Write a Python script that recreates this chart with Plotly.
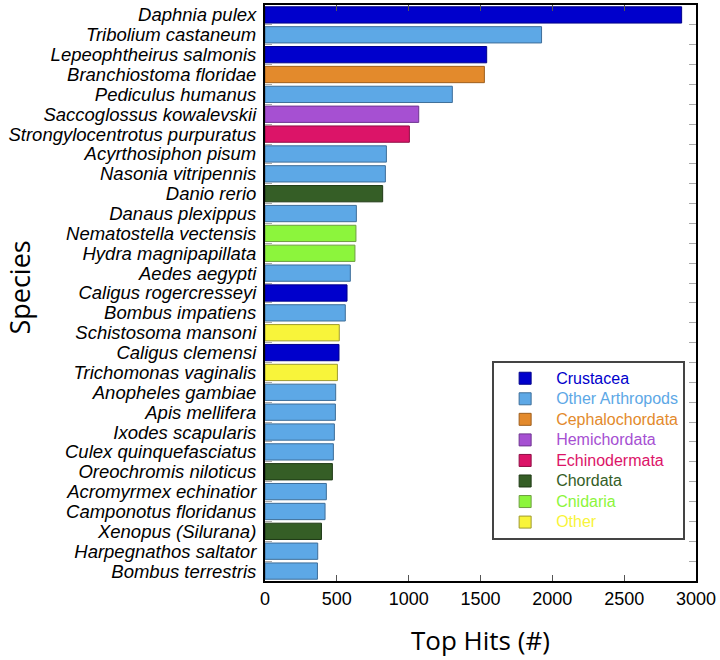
import plotly.graph_objects as go

species = ["Daphnia pulex", "Tribolium castaneum", "Lepeophtheirus salmonis", "Branchiostoma floridae",
           "Pediculus humanus", "Saccoglossus kowalevskii", "Strongylocentrotus purpuratus",
           "Acyrthosiphon pisum", "Nasonia vitripennis", "Danio rerio", "Danaus plexippus",
           "Nematostella vectensis", "Hydra magnipapillata", "Aedes aegypti", "Caligus rogercresseyi",
           "Bombus impatiens", "Schistosoma mansoni", "Caligus clemensi", "Trichomonas vaginalis",
           "Anopheles gambiae", "Apis mellifera", "Ixodes scapularis", "Culex quinquefasciatus",
           "Oreochromis niloticus", "Acromyrmex echinatior", "Camponotus floridanus",
           "Xenopus (Silurana)", "Harpegnathos saltator", "Bombus terrestris"]
top_hits = [2900, 1925, 1543, 1527, 1304, 1070, 1005, 845, 838, 819, 636, 633, 626, 594, 571,
            559, 517, 515, 504, 492, 490, 483, 476, 469, 427, 418, 393, 367, 365]
groups = ["Crustacea", "Other Arthropods", "Crustacea", "Cephalochordata", "Other Arthropods",
          "Hemichordata", "Echinodermata", "Other Arthropods", "Other Arthropods", "Chordata",
          "Other Arthropods", "Cnidaria", "Cnidaria", "Other Arthropods", "Crustacea",
          "Other Arthropods", "Other", "Crustacea", "Other", "Other Arthropods", "Other Arthropods",
          "Other Arthropods", "Other Arthropods", "Chordata", "Other Arthropods", "Other Arthropods",
          "Chordata", "Other Arthropods", "Other Arthropods"]
group_names = ["Crustacea", "Other Arthropods", "Cephalochordata", "Hemichordata",
               "Echinodermata", "Chordata", "Cnidaria", "Other"]
group_colors = ["#0000CC", "#5DA8E6", "#E38A2C", "#A650D2", "#DC1468", "#355E26", "#8CF53C", "#F8F43A"]
group_lines = ["#00008A", "#3E6E99", "#9E5F1E", "#6E3590", "#8E0D44", "#1F3A16", "#6E9E40", "#9E9A30"]
x_title = "Top Hits (#)"
y_title = "Species"

fig = go.Figure()
for g, c, lc in zip(group_names, group_colors, group_lines):
    ys = [s for s, gg in zip(species, groups) if gg == g]
    xs = [v for v, gg in zip(top_hits, groups) if gg == g]
    fig.add_trace(go.Bar(
        x=xs, y=ys, orientation="h",
        name=f"<span style='color:{c};font-size:16px'>{g}</span>",
        marker=dict(color=c, line=dict(color=lc, width=1)),
    ))

fig.update_layout(
    width=720, height=660,
    plot_bgcolor="white", paper_bgcolor="white",
    margin=dict(l=265, r=24, t=5, b=79),
    barmode="relative", bargap=0.18,
    showlegend=True,
    legend=dict(
        x=0.527, y=0.382, xanchor="left", yanchor="top",
        bordercolor="#444444", borderwidth=2, bgcolor="white",
        font=dict(family="Liberation Sans, Arial, sans-serif", size=13.5),
        itemwidth=52,
    ),
    annotations=[
        dict(text=y_title, xref="paper", yref="paper", x=-0.569, y=0.509, textangle=-90,
             showarrow=False, xanchor="center", yanchor="middle",
             font=dict(family="Open Sans, sans-serif", size=27, color="black")),
        dict(text=x_title, xref="paper", yref="paper", x=0.50, y=-0.102,
             showarrow=False, xanchor="center", yanchor="middle",
             font=dict(family="Open Sans, sans-serif", size=26, color="black")),
    ],
)
fig.update_xaxes(
    range=[0, 3000], dtick=500, tick0=0, automargin=False,
    showline=True, linecolor="black", linewidth=2, mirror="allticks",
    ticks="inside", ticklen=6, tickcolor="#555555",
    showgrid=False, zeroline=False,
    tickfont=dict(family="Liberation Sans, Arial, sans-serif", size=18, color="black"),
)
fig.update_yaxes(
    type="category", categoryorder="array", categoryarray=species, autorange="reversed",
    automargin=False, tickmode="linear", tick0=0, dtick=1,
    showline=True, linecolor="black", linewidth=2, mirror="allticks",
    ticks="inside", ticklen=7, tickcolor="#AAAAAA", tickson="boundaries",
    showgrid=False, ticklabelstandoff=3,
    tickfont=dict(family="Liberation Sans, Arial, sans-serif", size=18.5, color="black", style="italic"),
)

fig.write_html(
    "out.html",
    config={"displayModeBar": False},
    post_script="document.body.style.margin='0';document.body.style.overflow='hidden';",
)
